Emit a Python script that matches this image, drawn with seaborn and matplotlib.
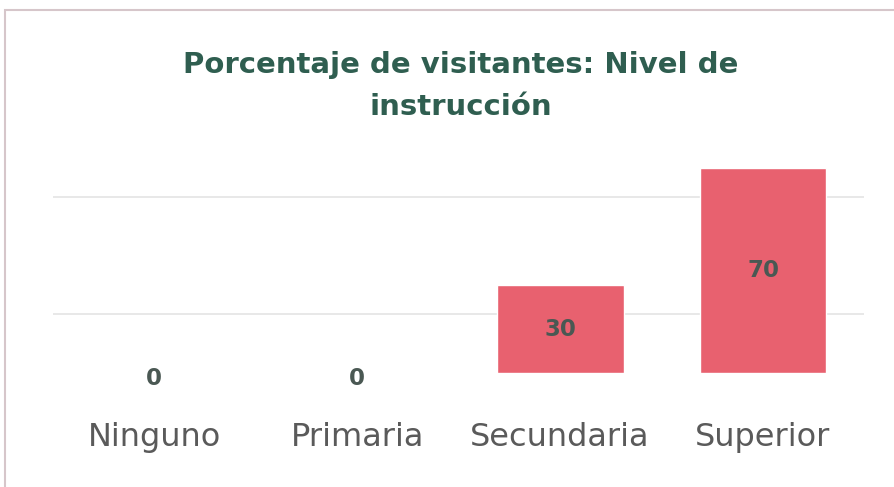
import matplotlib
matplotlib.use("Agg")
import matplotlib.pyplot as plt
import seaborn as sns
import pandas as pd
from matplotlib.patches import Rectangle

# datos del gráfico
categorias = ["Ninguno", "Primaria", "Secundaria", "Superior"]
porcentajes = [0, 0, 30, 70]
titulo = "Porcentaje de visitantes: Nivel de\ninstrucción"

BAR_COLOR = "#E8616F"
TITLE_COLOR = "#2F5E50"
LABEL_COLOR = "#4A5853"
TICK_COLOR = "#5A5A5A"

sns.set_theme(style="white")
plt.rcParams['font.family'] = ['DejaVu Sans']

df = pd.DataFrame({"Nivel": categorias, "Porcentaje": porcentajes})

fig = plt.figure(figsize=(8.94, 4.87), dpi=100)
ax = fig.add_axes([0.059, 0.234, 0.908, 0.481])

sns.barplot(data=df, x="Nivel", y="Porcentaje", color=BAR_COLOR, width=0.625,
            saturation=1, ax=ax, zorder=3)

ax.set_ylim(0, 80)
ax.set_yticks([20, 60])
ax.yaxis.grid(True, color="#E4E4E4", linewidth=1.2, zorder=0)
ax.set_yticklabels([])
ax.tick_params(axis="y", length=0)
ax.tick_params(axis="x", length=0, pad=35, labelsize=23, labelcolor=TICK_COLOR)
ax.set_xlabel("")
ax.set_ylabel("")
for s in ax.spines.values():
    s.set_visible(False)

# etiquetas de datos en el centro de cada barra
for i, v in enumerate(porcentajes):
    ax.annotate(f"{v}", (i, v / 2), xytext=(0, -4 if v == 0 else 0),
                textcoords="offset points", ha="center", va="center",
                fontsize=16.5, fontweight="bold", color=LABEL_COLOR, zorder=4)

fig.text(461 / 894, 1 - 86 / 487, titulo, ha="center", va="center",
         fontsize=21, fontweight="bold", color=TITLE_COLOR, linespacing=1.65)

# borde del área del gráfico
fig.patches.append(Rectangle((5 / 894, -0.05), 1.0, 1 - 10 / 487 + 0.05,
                             transform=fig.transFigure, fill=False,
                             edgecolor="#D6C6CA", linewidth=1.5))

fig.savefig("out.png", dpi=100)
